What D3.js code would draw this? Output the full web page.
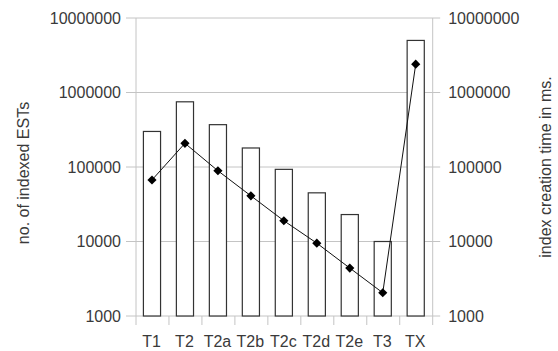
<!DOCTYPE html>
<html>
<head>
<meta charset="utf-8">
<script src="https://cdn.jsdelivr.net/npm/d3@7"></script>
<style>
  html, body { margin: 0; padding: 0; background: #fff; }
  svg text { font-family: "Liberation Sans", Arial, sans-serif; fill: #3a3a3a; }
</style>
</head>
<body>
<svg id="chart" width="558" height="351"></svg>
<script>
// Index variants
const categories = ["T1", "T2", "T2a", "T2b", "T2c", "T2d", "T2e", "T3", "TX"];
// Number of indexed ESTs (bars, left axis)
const estCounts = [300000, 750000, 370000, 180000, 93000, 45000, 23000, 10000, 5000000];
// Index creation time in ms (line, right axis)
const creationTimes = [67000, 208000, 89000, 41000, 19000, 9500, 4400, 2050, 2400000];
// Axis ticks (same decades on both axes)
const tickValues = [1000, 10000, 100000, 1000000, 10000000];

const svg = d3.select("#chart");
const plot = { left: 136, right: 432.7, top: 18, bottom: 316 };

const x = d3.scaleBand().domain(categories).range([plot.left, plot.right]).padding(0);
const yLeft = d3.scaleLog().domain([1000, 10000000]).range([plot.bottom, plot.top]);
const yRight = d3.scaleLog().domain([1000, 10000000]).range([plot.bottom, plot.top]);

const grid = "#c4c4c4";

// Horizontal gridlines, spanning both outer tick marks
svg.append("g").selectAll("line").data(tickValues).join("line")
  .attr("x1", plot.left - 10).attr("x2", plot.right + 7.5)
  .attr("y1", d => yLeft(d)).attr("y2", d => yLeft(d))
  .attr("stroke", grid).attr("stroke-width", 1);

// Vertical axis lines
[plot.left, plot.right].forEach(px => {
  svg.append("line")
    .attr("x1", px).attr("x2", px)
    .attr("y1", plot.top).attr("y2", plot.bottom)
    .attr("stroke", grid).attr("stroke-width", 1);
});

// Category boundary ticks below the plot
const bounds = categories.map(c => x(c)).concat([plot.right]);
svg.append("g").selectAll("line").data(bounds).join("line")
  .attr("x1", d => d).attr("x2", d => d)
  .attr("y1", plot.bottom).attr("y2", plot.bottom + 9)
  .attr("stroke", grid).attr("stroke-width", 1);

// Left tick labels
svg.append("g").selectAll("text").data(tickValues).join("text")
  .attr("x", plot.left - 15).attr("y", d => yLeft(d))
  .attr("dy", "0.36em").attr("text-anchor", "end")
  .attr("font-size", 16)
  .text(d => d3.format("d")(d));

// Right tick labels
svg.append("g").selectAll("text").data(tickValues).join("text")
  .attr("x", plot.right + 15.5).attr("y", d => yRight(d))
  .attr("dy", "0.36em").attr("text-anchor", "start")
  .attr("font-size", 16)
  .text(d => d3.format("d")(d));

// Category labels
svg.append("g").selectAll("text").data(categories).join("text")
  .attr("x", d => x(d) + x.bandwidth() / 2 - 1).attr("y", 347)
  .attr("text-anchor", "middle").attr("font-size", 16)
  .text(d => d);

// Axis titles
svg.append("text")
  .attr("transform", `translate(29, ${(plot.top + plot.bottom) / 2 + 6}) rotate(-90)`)
  .attr("text-anchor", "middle").attr("font-size", 16)
  .text("no. of indexed ESTs");
svg.append("text")
  .attr("transform", `translate(551, ${(plot.top + plot.bottom) / 2}) rotate(-90)`)
  .attr("text-anchor", "middle").attr("font-size", 16)
  .text("index creation time in ms.");

// Bars
const barW = x.bandwidth() * 0.52;
svg.append("g").selectAll("rect").data(estCounts).join("rect")
  .attr("x", (d, i) => x(categories[i]) + x.bandwidth() / 2 - barW / 2 - 0.5)
  .attr("y", d => yLeft(d))
  .attr("width", barW)
  .attr("height", d => plot.bottom - yLeft(d))
  .attr("fill", "#fff").attr("stroke", "#333").attr("stroke-width", 1.2);

// Creation time line
const cx = (d, i) => x(categories[i]) + x.bandwidth() / 2 - 0.5;
const line = d3.line().x(cx).y(d => yRight(d));
svg.append("path").datum(creationTimes)
  .attr("d", line).attr("fill", "none")
  .attr("stroke", "#111").attr("stroke-width", 1);

// Diamond markers
const diamond = d3.symbol().type(d3.symbolSquare).size(42);
svg.append("g").selectAll("path").data(creationTimes).join("path")
  .attr("d", diamond)
  .attr("transform", (d, i) => `translate(${cx(d, i)}, ${yRight(d)}) rotate(45)`)
  .attr("fill", "#000");
</script>
</body>
</html>
